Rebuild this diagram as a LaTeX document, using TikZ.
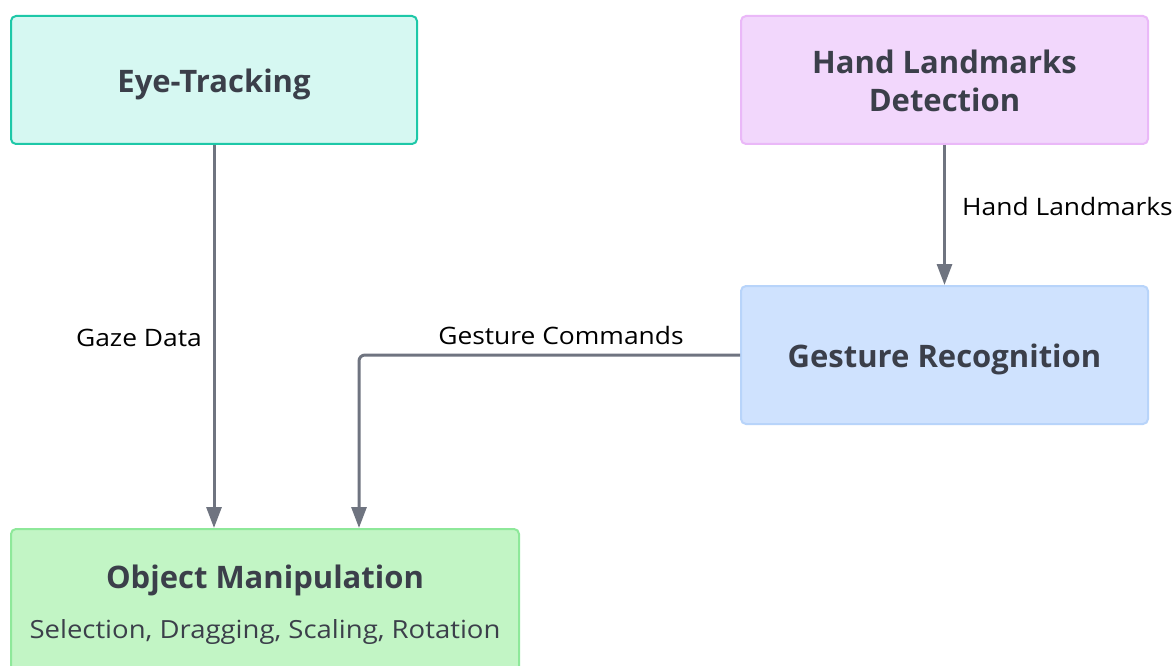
\documentclass[tikz,border=0pt]{standalone}
\usepackage{fontspec}
\setmainfont{Open Sans}
\usetikzlibrary{arrows.meta}
\definecolor{txt}{HTML}{3B3F4A}
\definecolor{edge}{HTML}{6F7480}
\definecolor{etfill}{HTML}{D6F8F2}
\definecolor{etline}{HTML}{1EC8A8}
\definecolor{hlfill}{HTML}{F2D7FC}
\definecolor{hlline}{HTML}{EAB8F8}
\definecolor{grfill}{HTML}{CFE2FE}
\definecolor{grline}{HTML}{B8D4FA}
\definecolor{omfill}{HTML}{C2F5C5}
\definecolor{omline}{HTML}{8EE89A}
\tikzset{
  box/.style={rectangle, rounded corners=5pt, line width=2pt, inner sep=0pt},
  title/.style={text=txt, font=\fontsize{31}{38}\selectfont\bfseries,
    inner sep=0pt, anchor=base, align=center},
  sub/.style={text=txt, font=\fontsize{25}{30}\selectfont\addfontfeature{FakeStretch=1.1},
    inner sep=0pt, anchor=base},
  flow/.style={draw=edge, line width=3pt,
    -{Triangle[length=21pt,width=15pt]}},
  lbl/.style={font=\fontsize{24}{28}\selectfont\addfontfeature{FakeStretch=1.1},
    text=black, inner sep=0pt, anchor=base}
}
\begin{document}
\begin{tikzpicture}[x=1pt,y=-1pt]
\useasboundingbox (0,0) rectangle (1176,666);
\clip (0,0) rectangle (1176,666);
\fill[white] (0,0) rectangle (1176,666);

% boxes
\node[box, fill=etfill, draw=etline, minimum width=406pt, minimum height=128pt]
  (et) at (214,80) {};
\node[box, fill=hlfill, draw=hlline, minimum width=407pt, minimum height=128pt]
  (hl) at (944.5,80) {};
\node[box, fill=grfill, draw=grline, minimum width=407pt, minimum height=138pt]
  (gr) at (944.5,355) {};
\node[box, fill=omfill, draw=omline, minimum width=508pt, minimum height=148pt]
  (om) at (265,603) {};

% box texts (base of a two-line node is its last line)
\node[title] (ett) at (214,93) {Eye-Tracking};
\node[title] (hlt) at (944.5,112) {Hand Landmarks\\Detection};
\node[title] (grt) at (944.5,367) {Gesture Recognition};
\node[title] (omt) at (265,588) {Object Manipulation};
\node[sub] (oms) at (265,638) {Selection, Dragging, Scaling, Rotation};

% connectors
\draw[flow] (et.south) -- (et.south |- om.north);
\draw[flow] (hl.south) -- (gr.north);
\draw[flow, rounded corners=6pt] (gr.west) -| ([xshift=349pt]om.north west);

% connector labels
\node[lbl] (l1) at (139,346) {Gaze Data};
\node[lbl, anchor=base west] (l2) at (962,215) {Hand Landmarks};
\node[lbl] (l3) at (561,344) {Gesture Commands};
\end{tikzpicture}
\end{document}
